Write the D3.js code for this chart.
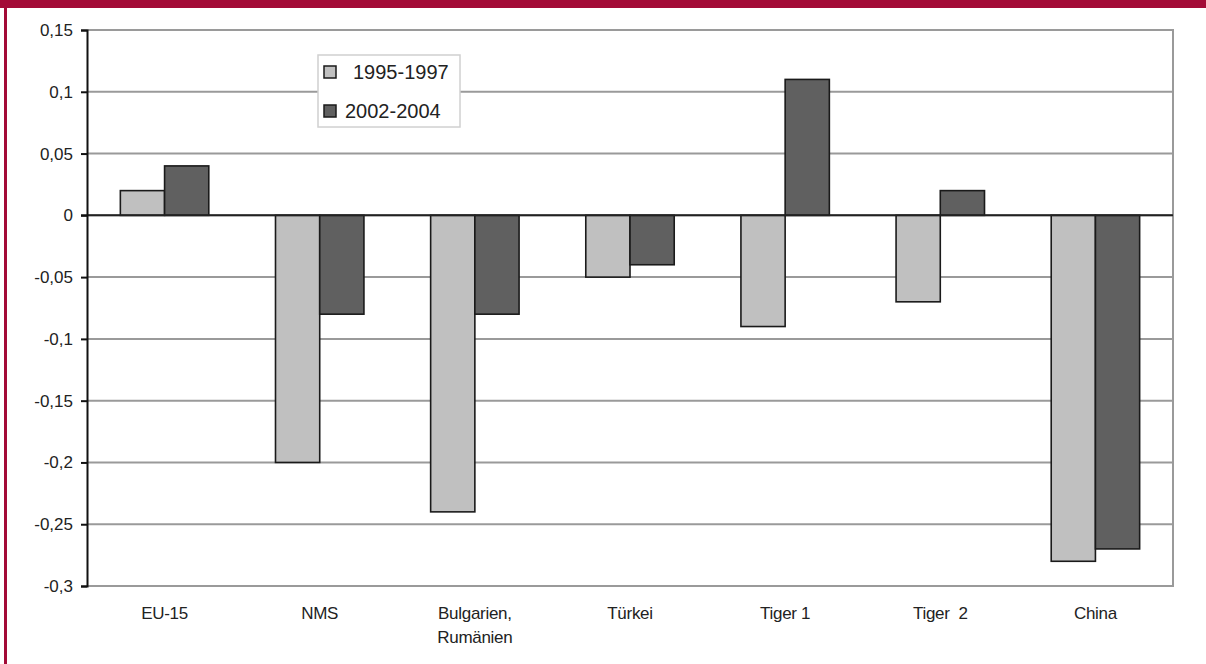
<!DOCTYPE html>
<html><head><meta charset="utf-8">
<script src="https://cdn.jsdelivr.net/npm/d3@7"></script>
<style>html,body{margin:0;padding:0;background:#fff;}svg{display:block;}</style>
</head><body>
<svg id="c" width="1206" height="664"></svg>
<script>
const categories = ["EU-15", "NMS", "Bulgarien,\nRumänien", "Türkei", "Tiger 1", "Tiger  2", "China"];
const series1995 = [0.02, -0.20, -0.24, -0.05, -0.09, -0.07, -0.28];
const series2002 = [0.04, -0.08, -0.08, -0.04, 0.11, 0.02, -0.27];
const seriesNames = ["1995-1997", "2002-2004"];
const yTicks = [0.15, 0.1, 0.05, 0, -0.05, -0.1, -0.15, -0.2, -0.25, -0.3];
const yTickLabels = ["0,15", "0,1", "0,05", "0", "-0,05", "-0,1", "-0,15", "-0,2", "-0,25", "-0,3"];

const svg = d3.select("#c");
const W = 1206, H = 664;
const red = "#a30b37";
const font = "'Liberation Sans', Arial, sans-serif";

// frame
svg.append("rect").attr("x",0).attr("y",0).attr("width",W).attr("height",H).attr("fill","#fff");
svg.append("rect").attr("x",0).attr("y",0).attr("width",W).attr("height",8).attr("fill",red);
svg.append("rect").attr("x",4).attr("y",0).attr("width",3).attr("height",H).attr("fill",red);

const m = {left: 87, right: 1173, top: 30, bottom: 586};
const x0 = d3.scaleBand().domain(categories).range([m.left, m.right]).paddingInner(0.43).paddingOuter(0.215);
const x1 = d3.scaleBand().domain([0,1]).range([0, x0.bandwidth()]);
const y = d3.scaleLinear().domain([-0.3, 0.15]).range([m.bottom, m.top]);

// gridlines
svg.append("g").selectAll("line").data(yTicks).join("line")
  .attr("x1", m.left).attr("x2", m.right)
  .attr("y1", d => y(d)).attr("y2", d => y(d))
  .attr("stroke", "#9a9a9a").attr("stroke-width", 2);
// right border
svg.append("line").attr("x1", m.right).attr("x2", m.right).attr("y1", m.top-1).attr("y2", m.bottom+1)
  .attr("stroke","#9a9a9a").attr("stroke-width",2);

// bars
const groups = svg.append("g").selectAll("g").data(categories).join("g")
  .attr("transform", d => `translate(${x0(d)},0)`);
const fills = ["#c0c0c0", "#606060"];
groups.each(function(c, i) {
  const vals = [series1995[i], series2002[i]];
  d3.select(this).selectAll("rect").data(vals).join("rect")
    .attr("x", (v, j) => x1(j))
    .attr("width", x1.bandwidth())
    .attr("y", v => y(Math.max(0, v)))
    .attr("height", v => Math.abs(y(v) - y(0)))
    .attr("fill", (v, j) => fills[j])
    .attr("stroke", "#1a1a1a").attr("stroke-width", 1.6);
});

// zero line
svg.append("line").attr("x1", m.left - 6).attr("x2", m.right).attr("y1", y(0)).attr("y2", y(0))
  .attr("stroke", "#222").attr("stroke-width", 2);

// y axis
const yAxis = d3.axisLeft(y).tickValues(yTicks).tickSize(6).tickPadding(8)
  .tickFormat((d, i) => yTickLabels[i]);
const ga = svg.append("g").attr("transform", `translate(${m.left},0)`).call(yAxis);
ga.select(".domain").attr("stroke", "#111").attr("stroke-width", 2);
ga.selectAll(".tick line").attr("stroke", "#111").attr("stroke-width", 2);
ga.selectAll("text").attr("font-family", font).attr("font-size", 17).attr("fill", "#222");

// x labels
const xl = svg.append("g").selectAll("text").data(categories).join("text")
  .attr("x", d => x0(d) + x0.bandwidth()/2)
  .attr("y", 619)
  .attr("text-anchor", "middle")
  .attr("font-family", font).attr("font-size", 17).attr("fill", "#222")
  .attr("letter-spacing", "-0.3");
xl.each(function(d) {
  const lines = d.split("\n");
  d3.select(this).selectAll("tspan").data(lines).join("tspan")
    .attr("x", x0(d) + x0.bandwidth()/2)
    .attr("dy", (l, k) => k === 0 ? 0 : 24)
    .attr("xml:space", "preserve")
    .style("white-space", "pre")
    .text(l => l);
});

// legend
const lg = svg.append("g");
lg.append("rect").attr("x", 318).attr("y", 55).attr("width", 142).attr("height", 72)
  .attr("fill", "#fff").attr("stroke", "#d0d0d0").attr("stroke-width", 1.5);
seriesNames.forEach((n, j) => {
  const yy = 72 + j * 39;
  lg.append("rect").attr("x", 324).attr("y", yy - 6).attr("width", 12).attr("height", 12)
    .attr("fill", fills[j]).attr("stroke", "#1a1a1a").attr("stroke-width", 1.5);
  lg.append("text").attr("x", j === 0 ? 353 : 345).attr("y", yy + 7)
    .attr("font-family", font).attr("font-size", 20).attr("fill", "#222").text(n);
});
</script>
</body></html>
